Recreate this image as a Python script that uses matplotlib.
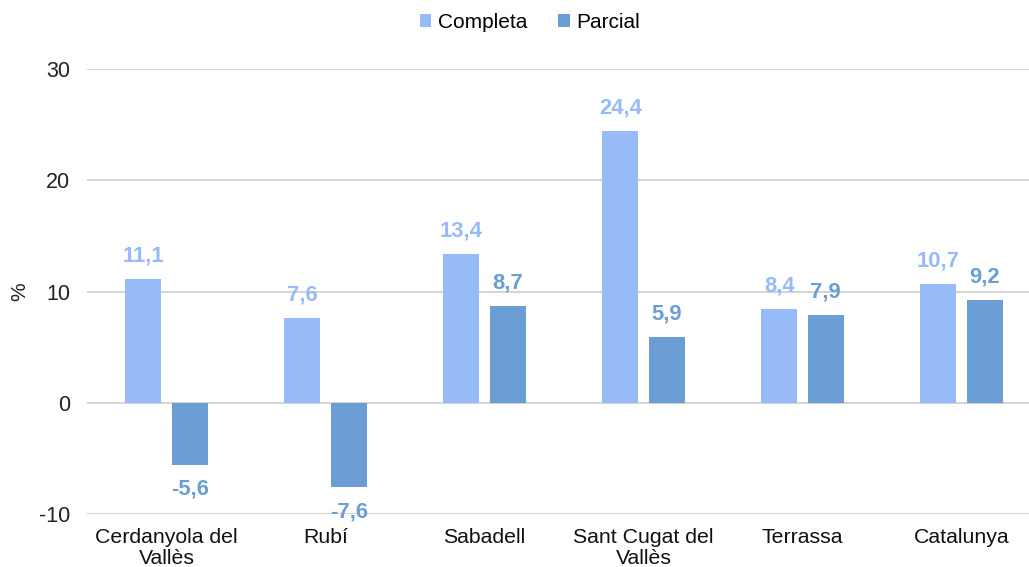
import matplotlib
matplotlib.use("Agg")
import matplotlib.pyplot as plt
import numpy as np

categories = ["Cerdanyola del\nVallès", "Rubí", "Sabadell", "Sant Cugat del\nVallès", "Terrassa", "Catalunya"]
completa = [11.1, 7.6, 13.4, 24.4, 8.4, 10.7]
parcial = [-5.6, -7.6, 8.7, 5.9, 7.9, 9.2]
series_names = ["Completa", "Parcial"]
yticks = [-10, 0, 10, 20, 30]

c1 = "#97BAF9"
c2 = "#6A9ED4"
plt.rcParams['font.family'] = ['Liberation Sans', 'DejaVu Sans']

fig = plt.figure(figsize=(10.29, 5.67), dpi=100)
W, H = 1029, 567
left, right, top, bot = 87, 1041, 69, 514
ax = fig.add_axes([left / W, 1 - bot / H, (right - left) / W, (bot - top) / H])

x = np.arange(len(categories))
w = 0.225
off = 0.146
b1 = ax.bar(x - off, completa, w, color=c1, label=series_names[0], zorder=3)
b2 = ax.bar(x + off, parcial, w, color=c2, label=series_names[1], zorder=3)

def fmt(v):
    return f"{v:.1f}".replace(".", ",")

for xs, vals, col in ((x - off, completa, c1), (x + off, parcial, c2)):
    for xi, v in zip(xs, vals):
        ax.annotate(fmt(v), (xi, v), xytext=(0, 9 if v >= 0 else -10), textcoords="offset points",
                    ha="center", va="bottom" if v >= 0 else "top", color=col,
                    fontsize=15.8, fontweight="bold", zorder=4)

ax.set_xlim(-0.5, len(categories) - 0.5)
ax.set_ylim(-10, 30)
ax.set_yticks(yticks)
ax.set_yticklabels([str(t) for t in yticks], fontsize=15.5, color="#222222")
ax.set_xticks(x)
ax.set_xticklabels(categories, fontsize=15.3, color="#111111", linespacing=1.15)
ax.tick_params(axis="both", length=0)
ax.tick_params(axis="y", pad=12)
ax.tick_params(axis="x", pad=10)
ax.grid(axis="y", color="#D5D5D5", linewidth=1.5, zorder=0)
for s in ax.spines.values():
    s.set_visible(False)
ax.set_ylabel("%", fontsize=15, color="#222222", labelpad=7)

leg = fig.legend(handles=[b1, b2], labels=series_names, loc="upper center",
                 bbox_to_anchor=(0.515, 1.01), ncol=2, frameon=False, fontsize=15,
                 handlelength=0.55, handleheight=0.55, handletextpad=0.3, columnspacing=1.5)

fig.savefig("out.png", dpi=100)
